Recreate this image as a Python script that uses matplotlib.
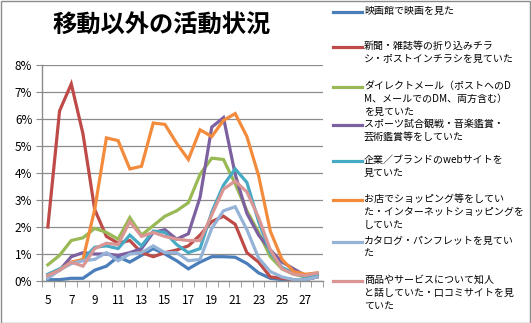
import matplotlib
matplotlib.use("Agg")
import matplotlib.pyplot as plt
from matplotlib.lines import Line2D
from matplotlib.patches import Rectangle
from matplotlib.ticker import FixedLocator, FuncFormatter

plt.rcParams['font.family'] = ['Noto Sans CJK JP', 'DejaVu Sans']

hours = list(range(5, 29))

series_names = [
    "映画館で映画を見た",
    "新聞・雑誌等の折り込みチラ\nシ・ポストインチラシを見ていた",
    "ダイレクトメール（ポストへのD\nM、メールでのDM、両方含む）\nを見ていた",
    "スポーツ試合観戦・音楽鑑賞・\n芸術鑑賞等をしていた",
    "企業／ブランドのwebサイトを\n見ていた",
    "お店でショッピング等をしてい\nた・インターネットショッピングを\nしていた",
    "カタログ・パンフレットを見てい\nた",
    "商品やサービスについて知人\nと話していた・口コミサイトを見\nていた",
]

movie    = [0.05, 0.05, 0.1, 0.1, 0.4, 0.55, 0.9, 0.7, 0.95, 1.2, 1.0, 0.75, 0.45, 0.7, 0.9, 0.9, 0.88, 0.65, 0.3, 0.1, 0.05, 0.05, 0.05, 0.15]
flyer    = [2.0, 6.3, 7.3, 5.45, 2.65, 1.65, 1.4, 1.5, 1.05, 0.9, 1.05, 1.15, 1.3, 1.7, 2.2, 2.4, 2.1, 1.05, 0.7, 0.15, 0.1, 0.05, 0.05, 0.15]
dm       = [0.6, 0.95, 1.5, 1.6, 1.95, 1.8, 1.55, 2.35, 1.7, 2.05, 2.4, 2.6, 2.9, 3.95, 4.55, 4.5, 3.6, 2.6, 1.8, 0.9, 0.45, 0.25, 0.15, 0.25]
sports   = [0.2, 0.4, 0.9, 1.05, 1.0, 1.0, 0.95, 1.05, 1.2, 1.8, 1.9, 1.55, 1.75, 3.1, 5.7, 6.05, 3.95, 2.5, 1.7, 1.15, 0.7, 0.45, 0.2, 0.25]
website  = [0.25, 0.45, 0.65, 0.8, 1.25, 1.3, 1.2, 1.7, 1.3, 1.85, 1.8, 1.35, 1.05, 1.2, 2.55, 3.55, 4.15, 3.65, 2.2, 1.05, 0.5, 0.3, 0.15, 0.25]
shopping = [0.2, 0.4, 0.7, 0.8, 2.65, 5.3, 5.2, 4.15, 4.25, 5.85, 5.8, 5.1, 4.5, 5.6, 5.35, 5.95, 6.2, 5.35, 3.9, 1.85, 0.8, 0.35, 0.25, 0.3]
catalog  = [0.1, 0.4, 0.65, 0.75, 0.8, 1.05, 0.75, 1.0, 1.05, 1.3, 1.05, 1.05, 0.75, 0.8, 1.95, 2.6, 2.75, 1.9, 0.85, 0.35, 0.15, 0.05, 0.05, 0.15]
talk     = [0.2, 0.4, 0.7, 0.55, 1.2, 1.4, 1.35, 2.2, 1.65, 1.8, 1.65, 1.55, 1.5, 1.5, 2.45, 3.4, 3.7, 3.3, 2.35, 1.15, 0.45, 0.25, 0.2, 0.3]

all_series = [movie, flyer, dm, sports, website, shopping, catalog, talk]
colors = ["#4A7EBB", "#BE4B48", "#98B954", "#7D60A0", "#46AAC5", "#F38B3C", "#95B3D7", "#D99694"]

title = "移動以外の活動状況"
y_ticks = [0, 1, 2, 3, 4, 5, 6, 7, 8]
x_labels = list(range(5, 28, 2))

W, H = 531, 323
fig = plt.figure(figsize=(W / 100, H / 100), dpi=100)

# outer border
fig.patches.append(Rectangle((0.5 / W, 0.5 / H), 1 - 1.5 / W, 1 - 1.5 / H, transform=fig.transFigure,
                             fill=False, edgecolor="#8c8c8c", linewidth=1.0))

ax = fig.add_axes([42 / W, 1 - 281 / H, (323 - 42) / W, (281 - 65) / H])
for s, c in zip(all_series, colors):
    ax.plot(hours, s, color=c, linewidth=2.3, solid_joinstyle='miter')

ax.set_xlim(4.5, 28.5)
ax.set_ylim(0, 8)
ax.yaxis.set_major_locator(FixedLocator(y_ticks))
ax.yaxis.set_major_formatter(FuncFormatter(lambda v, p: f"{int(v)}%"))
ax.xaxis.set_major_locator(FixedLocator(x_labels))
ax.xaxis.set_minor_locator(FixedLocator([h - 0.5 for h in hours] + [hours[-1] + 0.5]))
ax.tick_params(axis='x', which='major', length=0, pad=9, labelsize=8.5)
ax.tick_params(axis='x', which='minor', length=4, color="#8c8c8c", direction='out')
ax.tick_params(axis='y', length=4, color="#8c8c8c", direction='out', labelsize=8.5, pad=3)
ax.grid(axis='y', color="#8c8c8c", linewidth=0.9)
ax.set_axisbelow(True)
for sp in ['top', 'right']:
    ax.spines[sp].set_visible(False)
for sp in ['left', 'bottom']:
    ax.spines[sp].set_color("#8c8c8c")
    ax.spines[sp].set_linewidth(1.0)

fig.text(162 / W, 1 - 26 / H, title, ha='center', va='center', fontsize=17.5, fontweight='bold')

# legend
legend_y = [12, 47, 87, 125, 161, 200, 242, 281]
for name, c, yy in zip(series_names, colors, legend_y):
    yf = 1 - yy / H
    fig.lines.append(Line2D([333 / W, 362 / W], [yf, yf], transform=fig.transFigure,
                            color=c, linewidth=2.3))
    fig.text(364 / W, 1 - (yy - 6) / H, name, ha='left', va='top', fontsize=7.2,
             linespacing=1.4)

fig.savefig("out.png", dpi=100)
